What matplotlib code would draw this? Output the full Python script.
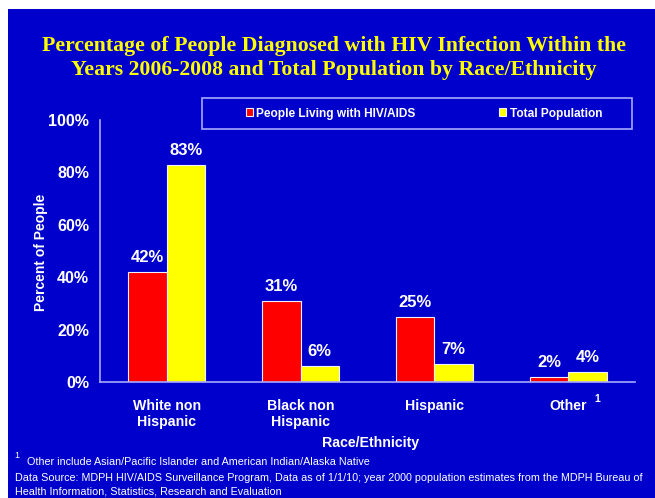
import matplotlib
matplotlib.use("Agg")
import matplotlib.pyplot as plt
import numpy as np
from matplotlib.patches import Rectangle

# chart data
categories = ["White non\nHispanic", "Black non\nHispanic", "Hispanic", "Other"]
hiv_pct = [42, 31, 25, 2]
pop_pct = [83, 6, 7, 4]
yticks = [0, 20, 40, 60, 80, 100]

BG = "#0000cc"
LINE = "#a8a8ff"
W, H = 655, 498

plt.rcParams["font.family"] = ["Liberation Sans", "DejaVu Sans"]

fig = plt.figure(figsize=(W / 100, H / 100), dpi=100)
fig.patch.set_facecolor("white")
fig.patches.append(Rectangle((8 / W, 0), 1 - 8 / W, 1 - 9 / H, transform=fig.transFigure,
                             facecolor=BG, edgecolor="none", zorder=-10))

ax = fig.add_axes([100 / W, 1 - 382 / H, 535 / W, 262 / H])
ax.set_facecolor("none")

x = np.arange(len(categories))
bw = 0.287
b1 = ax.bar(x - bw / 2, hiv_pct, bw, color="#ff0000", edgecolor="#f0f0ff", linewidth=0.8,
            label="People Living with HIV/AIDS")
b2 = ax.bar(x + bw / 2, pop_pct, bw, color="#ffff00", edgecolor="#f0f0ff", linewidth=0.8,
            label="Total Population")
for bars in (b1, b2):
    ax.bar_label(bars, labels=[f"{v}%" for v in bars.datavalues], padding=5,
                 color="white", fontsize=12, fontweight="bold")

ax.set_xlim(-0.5, 3.5)
ax.set_ylim(0, 100)
ax.set_yticks(yticks)
ax.set_yticklabels([f"{t}%" for t in yticks])
ax.set_xticks(x)
ax.set_xticklabels(categories)
ax.tick_params(axis="y", length=0, pad=8, labelcolor="white", labelsize=11.5)
ax.tick_params(axis="x", length=0, pad=12, labelcolor="white", labelsize=10.2)
for lab in ax.get_xticklabels() + ax.get_yticklabels():
    lab.set_fontweight("bold")
for s in ("top", "right"):
    ax.spines[s].set_visible(False)
for s in ("left", "bottom"):
    ax.spines[s].set_color(LINE)
    ax.spines[s].set_linewidth(1.2)

# footnote marker next to "Other"
ax.annotate("1", xy=(3, 0), xytext=(21, -12), textcoords="offset points",
            color="white", fontsize=7.5, fontweight="bold", ha="center", va="center",
            annotation_clip=False)

ax.set_xlabel("Race/Ethnicity", color="white", fontsize=10.2, fontweight="bold")
ax.xaxis.set_label_coords(271 / 535, -54 / 262)
ax.set_ylabel("Percent of People", color="white", fontsize=10, fontweight="bold")
ax.yaxis.set_label_coords(-52 / 535, 130 / 262)

# legend box
fig.patches.append(Rectangle((202 / W, 1 - 129 / H), 430 / W, 31 / H, transform=fig.transFigure,
                             facecolor="none", edgecolor=LINE, linewidth=1.2, zorder=5))
leg = fig.legend(handles=[b1, b2], loc="center", bbox_to_anchor=(424 / W, 1 - 113.5 / H),
                 ncol=2, frameon=False, fontsize=8.6, handlelength=0.6, handleheight=0.6,
                 handletextpad=0.3, columnspacing=7.0)
for t in leg.get_texts():
    t.set_color("white")
    t.set_fontweight("bold")

fig.text(0.51, 1 - 58 / H,
         "Percentage of People Diagnosed with HIV Infection Within the\n"
         "Years 2006-2008 and Total Population by Race/Ethnicity",
         ha="center", va="center", color="#ffff00", fontsize=15.7, fontweight="bold",
         family="Liberation Serif", linespacing=1.2)

# footnotes
fig.text(14 / W, 1 - 455 / H, "1", color="white", fontsize=6.5, va="center")
fig.text(27 / W, 1 - 462 / H,
         "Other include Asian/Pacific Islander and American Indian/Alaska Native",
         color="white", fontsize=7.75, va="center")
fig.text(15 / W, 1 - 484.5 / H,
         "Data Source: MDPH HIV/AIDS Surveillance Program, Data as of 1/1/10; year 2000 population estimates from the MDPH Bureau of\n"
         "Health Information, Statistics, Research and Evaluation",
         color="white", fontsize=7.75, va="center", linespacing=1.5)

fig.savefig("out.png", dpi=100, facecolor=fig.get_facecolor())
